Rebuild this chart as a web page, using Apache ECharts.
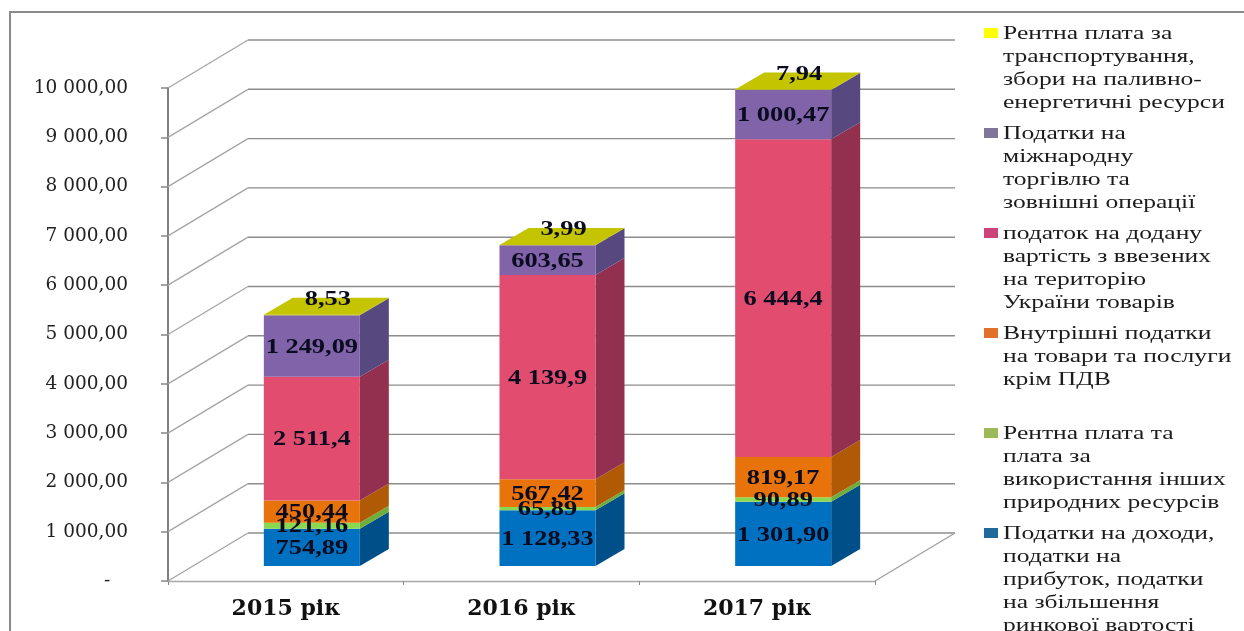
<!DOCTYPE html>
<html>
<head>
<meta charset="utf-8">
<style>
html,body{margin:0;padding:0;background:#fff;overflow:hidden}
#main{width:1244px;height:631px;filter:blur(.4px)}
</style>
<script src="https://cdn.jsdelivr.net/npm/echarts@6/dist/echarts.min.js"></script>
</head>
<body>
<div id="main"></div>
<script>
// дані діаграми
var categories = ['2015 рік', '2016 рік', '2017 рік'];
var yTicks = [0, 1000, 2000, 3000, 4000, 5000, 6000, 7000, 8000, 9000, 10000];
var incomeTax = [754.89, 1128.33, 1301.90];
var rentOther = [121.16, 65.89, 90.89];
var domesticTax = [450.44, 567.42, 819.17];
var vatImport = [2511.4, 4139.9, 6444.4];
var tradeTax = [1249.09, 603.65, 1000.47];
var rentTransport = [8.53, 3.99, 7.94];

var seriesNames = [
  'Податки на доходи,\nподатки на\nприбуток, податки\nна збільшення\nринкової вартості',
  'Рентна плата та\nплата за\nвикористання інших\nприродних ресурсів',
  'Внутрішні податки\nна товари та послуги\nкрім ПДВ',
  'податок на додану\nвартість з ввезених\nна територію\nУкраїни товарів',
  'Податки на\nміжнародну\nторгівлю та\nзовнішні операції',
  'Рентна плата за\nтранспортування,\nзбори на паливно-\nенергетичні ресурси'
];
var seriesValues = [incomeTax, rentOther, domesticTax, vatImport, tradeTax, rentTransport];
var seriesDecimals = [2, 2, 2, 1, 2, 2];

var frontColors = ['#0070c0', '#8ad84f', '#e8730a', '#e24c6f', '#8063a8', '#c4c400'];
var sideColors = ['#004f88', '#6fae3c', '#b05a06', '#93304f', '#57487f', '#8a8a00'];
var legendColors = ['#1f6a9a', '#9bbb59', '#e0702a', '#cc4477', '#7f7799', '#ffff00'];
var legendTops = [528, 428, 328, 228, 128, 28];

// вісь і глибина "3D"
var wallDx = 80, wallDy = 48;
var barShiftX = 26, barShiftY = 15, barW = 96, sideDx = 29, sideDy = 17;

function fmt(v, d) {
  var p = v.toFixed(d).split('.');
  return p[0].replace(/\B(?=(\d{3})+$)/g, ' ') + ',' + p[1];
}

function renderWall(params, api) {
  var cs = params.coordSys;
  var y = api.coord([0, api.value(1)])[1];
  var x0 = cs.x, x1 = cs.x + cs.width;
  return {
    type: 'group',
    silent: true,
    children: [
      {type: 'line', shape: {x1: x0, y1: y, x2: x0 + wallDx, y2: y - wallDy}, style: {stroke: '#a6a6a6', lineWidth: 1.4}},
      {type: 'line', shape: {x1: x0 + wallDx, y1: y - wallDy, x2: x1 + wallDx, y2: y - wallDy}, style: {stroke: '#8c8c8c', lineWidth: 1.4}}
    ]
  };
}

// один сегмент стовпця: передня грань, бічна грань і (для верхнього ряду) кришка
function renderBar(params, api) {
  var s = params.seriesIndex - 1;
  var c = api.coord([api.value(0), api.value(1)]);
  var t = api.coord([api.value(0), api.value(2)]);
  var cx = c[0] + barShiftX;
  var yb = c[1] - barShiftY, yt = t[1] - barShiftY;
  var l = cx - barW / 2, r = cx + barW / 2;
  var isTop = s === seriesValues.length - 1;
  var kids = [
    {type: 'polygon', shape: {points: [[r, yb], [r + sideDx, yb - sideDy], [r + sideDx, yt - sideDy], [r, yt]]}, style: {fill: sideColors[s]}},
    {type: 'rect', shape: {x: l, y: yt, width: barW, height: yb - yt}, style: {fill: frontColors[s]}}
  ];
  if (isTop) {
    kids.push({type: 'polygon', shape: {points: [[l, yt], [l + sideDx, yt - sideDy], [r + sideDx, yt - sideDy], [r, yt]]}, style: {fill: frontColors[s]}});
  }
  var tx = isTop ? cx + 16 : cx, ty = isTop ? yt - 15 : (yt + yb) / 2 + 1.5;
  kids.push({
    type: 'text', x: tx, y: ty, scaleX: 1.32, z2: 10,
    style: {text: fmt(api.value(3), seriesDecimals[s]), font: 'bold 20px "Liberation Serif"', fill: '#0b0b20', align: 'center', verticalAlign: 'middle'}
  });
  return {type: 'group', children: kids};
}

var series = [{
  type: 'custom',
  name: 'walls',
  renderItem: renderWall,
  encode: {x: 0, y: 1},
  data: yTicks.map(function (v) { return [0, v]; }),
  z: 1
}];
for (var i = 0; i < seriesValues.length; i++) {
  var rows = [];
  for (var j = 0; j < categories.length; j++) {
    var b = 0;
    for (var k = 0; k < i; k++) b += seriesValues[k][j];
    rows.push([j, b, b + seriesValues[i][j], seriesValues[i][j]]);
  }
  series.push({
    type: 'custom',
    name: seriesNames[i],
    renderItem: renderBar,
    encode: {x: 0, y: [1, 2]},
    data: rows,
    z: 3
  });
}

// легенда: маркер біля першого рядка
var graphics = [
  {type: 'polyline', shape: {points: [[10, 631], [10, 12], [1244, 12]]}, style: {fill: 'none', stroke: '#8a8a8a', lineWidth: 2}, silent: true}
];
for (var n = 0; n < seriesNames.length; n++) {
  graphics.push({type: 'rect', shape: {x: 984, y: legendTops[n], width: 14, height: 10}, style: {fill: legendColors[n]}, silent: true});
  graphics.push({
    type: 'text', x: 1003, y: legendTops[n] - 5, scaleX: 1.42, silent: true,
    style: {text: seriesNames[n], font: '18px "Liberation Serif"', fill: '#1c1c1c', lineHeight: 23}
  });
}

var chart = echarts.init(document.getElementById('main'));
chart.setOption({
  animation: false,
  grid: {left: 168, right: 369, top: 88, bottom: 50},
  graphic: graphics,
  xAxis: {
    type: 'category',
    data: categories,
    axisLine: {lineStyle: {color: '#a8a8a8', width: 1.4}},
    axisTick: {show: true, length: 4, lineStyle: {color: '#888'}},
    axisLabel: {margin: 17, color: '#111', fontFamily: 'DejaVu Serif', fontWeight: 'bold', fontSize: 22}
  },
  yAxis: {
    type: 'value',
    min: 0,
    max: 10000,
    interval: 1000,
    axisLine: {show: true, lineStyle: {color: '#808080', width: 2}},
    axisTick: {show: true, length: 7, lineStyle: {color: '#888', width: 1.5}},
    splitLine: {show: false},
    axisLabel: {
      margin: 40,
      color: '#222',
      fontFamily: 'DejaVu Serif',
      fontSize: 18.5,
      padding: [8, 0, 0, 0],
      formatter: function (v) { return v === 0 ? '-   ' : fmt(v, 2); }
    }
  },
  series: series.concat([{
    // права діагональ підлоги
    type: 'custom',
    name: 'floor',
    renderItem: function (params) {
      var cs = params.coordSys, x = cs.x + cs.width, y = cs.y + cs.height;
      return {type: 'line', silent: true, shape: {x1: x, y1: y, x2: x + wallDx, y2: y - wallDy}, style: {stroke: '#a0a0a0', lineWidth: 1.4}};
    },
    data: [[0, 0]],
    z: 2
  }])
});
</script>
</body>
</html>
